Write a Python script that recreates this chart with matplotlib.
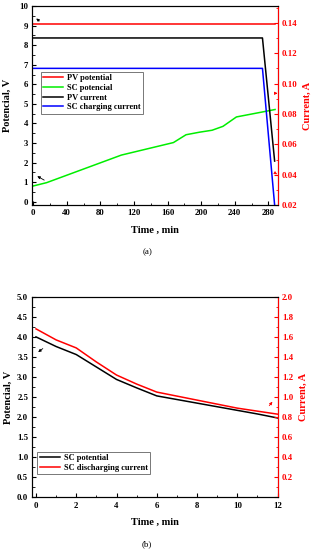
import matplotlib
matplotlib.use("Agg")
import matplotlib.pyplot as plt
from matplotlib.ticker import MultipleLocator

# ---- panel (a) data ----
t_pv = [0, 288]
pv_potential = [9.1, 9.1]

t_sc = [0, 16, 105, 167, 182, 198, 213, 226, 242, 270, 288]
sc_potential = [0.8, 0.97, 2.38, 3.02, 3.42, 3.55, 3.65, 3.85, 4.33, 4.56, 4.71]

t_pvi = [0, 273, 287.5]
pv_current = [0.130, 0.130, 0.049]

t_sci = [0, 273, 287.5]
sc_charging = [0.110, 0.110, 0.020]

# ---- panel (b) data ----
t_dis = [0, 1, 2, 3, 4, 5, 6, 7, 8, 9, 10, 11, 12]
sc_potential_b = [4.00, 3.76, 3.56, 3.25, 2.94, 2.73, 2.53, 2.44, 2.35, 2.26, 2.17, 2.08, 1.98]
sc_discharging = [1.68, 1.57, 1.49, 1.35, 1.22, 1.13, 1.05, 1.01, 0.97, 0.93, 0.89, 0.86, 0.83]

FONT = "Liberation Serif"
plt.rcParams['font.family'] = [FONT, 'DejaVu Serif']
plt.rcParams['font.weight'] = 'bold'
plt.rcParams['xtick.direction'] = 'in'
plt.rcParams['ytick.direction'] = 'in'

fig = plt.figure(figsize=(3.14, 5.5), dpi=100)

def style_axes(ax, ax2):
    for a in (ax, ax2):
        a.tick_params(which='major', length=3, width=0.8, labelsize=6.3, pad=3)
        a.tick_params(which='minor', length=1.8, width=0.6)
    ax2.spines['right'].set_color('red')
    ax2.tick_params(axis='y', which='both', colors='red')
    for lbl in ax.get_xticklabels() + ax.get_yticklabels() + ax2.get_yticklabels():
        lbl.set_fontweight('bold')
    ax.tick_params(top=False, right=False, which='both')
    ax2.tick_params(top=False, which='both')


# ================= panel (a) =================
ax = fig.add_axes([0.103, 0.627, 0.781, 0.362])
ax2 = ax.twinx()

l1, = ax.plot(t_pv, pv_potential, color='red', lw=1.1, label='PV potential')
l2, = ax.plot(t_sc, sc_potential, color='#00ee00', lw=1.1, label='SC potencial')
l3, = ax2.plot(t_pvi, pv_current, color='black', lw=1.1, label='PV current')
l4, = ax2.plot(t_sci, sc_charging, color='blue', lw=1.1, label='SC charging current')

ax.set_xlim(-1, 291)
ax.set_ylim(-0.18, 10)
ax2.set_ylim(0.02, 0.151)
ax.xaxis.set_major_locator(MultipleLocator(40))
ax.xaxis.set_minor_locator(MultipleLocator(20))
ax.yaxis.set_major_locator(MultipleLocator(1))
ax.yaxis.set_minor_locator(MultipleLocator(0.5))
ax2.yaxis.set_major_locator(MultipleLocator(0.02))
ax2.yaxis.set_minor_locator(MultipleLocator(0.01))
ax2.yaxis.set_major_formatter(matplotlib.ticker.FormatStrFormatter('%.2f'))
style_axes(ax, ax2)

ax.set_xlabel('Time , min', fontsize=7.5, fontweight='bold', labelpad=6)
ax.set_ylabel('Potencial, V', fontsize=7.5, fontweight='bold', labelpad=5)
ax2.set_ylabel('Current, A', fontsize=7.5, fontweight='bold', color='red', labelpad=4)

leg = ax.legend(handles=[l1, l2, l3, l4], loc='upper left', bbox_to_anchor=(0.034, 0.67),
                borderaxespad=0, fancybox=False, framealpha=1, edgecolor='#777777',
                prop={'family': FONT, 'weight': 'bold', 'size': 6.0},
                handlelength=2.4, handletextpad=0.5, borderpad=0.3, labelspacing=0.2)
leg.get_frame().set_linewidth(0.7)

arr_k = dict(arrowstyle='-|>', color='black', lw=0.6, mutation_scale=4)
arr_r = dict(arrowstyle='-|>', color='red', lw=0.6, mutation_scale=4)
ax.annotate('', xy=(1, 9.45), xytext=(10, 9.15), arrowprops=arr_k)
ax.annotate('', xy=(2, 1.37), xytext=(16, 1.03), arrowprops=arr_k)
ax2.annotate('', xy=(291, 0.0936), xytext=(285.5, 0.0936), arrowprops=arr_r)
ax2.annotate('', xy=(290.5, 0.0403), xytext=(286, 0.0418), arrowprops=arr_r)

fig.text(0.47, 1 - 252 / 550, '(a)', ha='center', va='center', fontsize=6.5,
         fontweight='normal')

# ================= panel (b) =================
bx = fig.add_axes([0.103, 0.0955, 0.781, 0.365])
bx2 = bx.twinx()

m1, = bx.plot(t_dis, sc_potential_b, color='black', lw=1.1, label='SC potential')
m2, = bx2.plot(t_dis, sc_discharging, color='red', lw=1.1, label='SC discharging current')

bx.set_xlim(-0.18, 12)
bx.set_ylim(0, 5)
bx2.set_ylim(0, 2.0)
bx.xaxis.set_major_locator(MultipleLocator(2))
bx.xaxis.set_minor_locator(MultipleLocator(1))
bx.yaxis.set_major_locator(MultipleLocator(0.5))
bx.yaxis.set_minor_locator(MultipleLocator(0.25))
bx2.yaxis.set_major_locator(MultipleLocator(0.2))
bx2.yaxis.set_minor_locator(MultipleLocator(0.1))
bx.yaxis.set_major_formatter(matplotlib.ticker.FormatStrFormatter('%.1f'))
bx2.yaxis.set_major_formatter(matplotlib.ticker.FuncFormatter(
    lambda v, p: '' if abs(v) < 1e-9 else '%.1f' % v))
style_axes(bx, bx2)

bx.set_xlabel('Time , min', fontsize=7.5, fontweight='bold', labelpad=6)
bx.set_ylabel('Potencial, V', fontsize=7.5, fontweight='bold', labelpad=3)
bx2.set_ylabel('Current, A', fontsize=7.5, fontweight='bold', color='red', labelpad=4)

leg2 = bx.legend(handles=[m1, m2], loc='upper left', bbox_to_anchor=(0.02, 0.228),
                 borderaxespad=0, fancybox=False, framealpha=1, edgecolor='#777777',
                 prop={'family': FONT, 'weight': 'bold', 'size': 6.0},
                 handlelength=2.4, handletextpad=0.5, borderpad=0.3, labelspacing=0.2)
leg2.get_frame().set_linewidth(0.7)

bx.annotate('', xy=(0.0, 3.58), xytext=(0.45, 3.75), arrowprops=arr_k)
bx2.annotate('', xy=(11.83, 0.975), xytext=(11.5, 0.893), arrowprops=arr_r)

fig.text(0.467, 1 - 544 / 550, '(b)', ha='center', va='center', fontsize=6.5,
         fontweight='normal')

fig.savefig('out.png', dpi=100)
